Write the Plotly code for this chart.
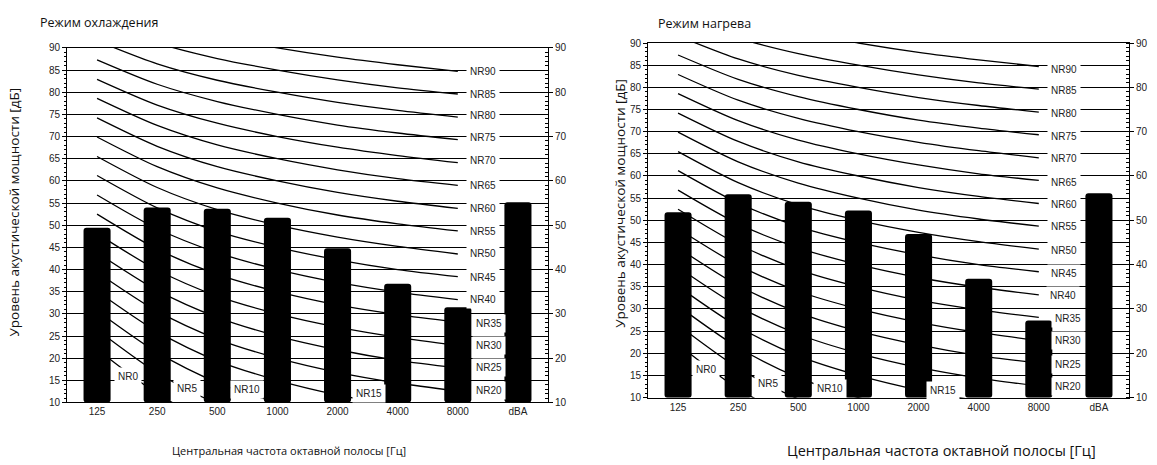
import plotly.graph_objects as go

W, H = 1157, 465

# ---------------- data ----------------
freqs = ["125", "250", "500", "1000", "2000", "4000", "8000", "dBA"]
cooling = [49.4, 54.0, 53.7, 51.7, 44.8, 36.8, 31.5, 55.2]
heating = [51.8, 55.9, 54.2, 52.2, 46.9, 36.8, 27.4, 56.1]

nr_levels = [0, 5, 10, 15, 20, 25, 30, 35, 40, 45, 50, 55, 60, 65, 70, 75, 80, 85, 90]
nr_125 = [22.0, 26.4, 30.7, 35.1, 39.4, 43.8, 48.1, 52.5, 56.8, 61.2, 65.5, 69.9, 74.2, 78.6, 82.9, 87.3, 91.6, 96.0, 100.3]
nr_250 = [12.0, 16.7, 21.3, 26.0, 30.6, 35.3, 39.9, 44.6, 49.2, 53.9, 58.5, 63.2, 67.8, 72.5, 77.1, 81.8, 86.4, 91.1, 95.7]
nr_500 = [4.8, 9.7, 14.5, 19.4, 24.3, 29.2, 34.0, 38.9, 43.8, 48.6, 53.5, 58.4, 63.2, 68.1, 73.0, 77.9, 82.7, 87.6, 92.5]
nr_1000 = [0.0, 5.0, 10.0, 15.0, 20.0, 25.0, 30.0, 35.0, 40.0, 45.0, 50.0, 55.0, 60.0, 65.0, 70.0, 75.0, 80.0, 85.0, 90.0]
nr_2000 = [-3.5, 1.6, 6.7, 11.7, 16.8, 21.9, 27.0, 32.0, 37.1, 42.2, 47.3, 52.3, 57.4, 62.5, 67.6, 72.6, 77.7, 82.8, 87.9]
nr_4000 = [-6.1, -1.0, 4.2, 9.3, 14.4, 19.5, 24.7, 29.8, 34.9, 40.0, 45.2, 50.3, 55.4, 60.5, 65.7, 70.8, 75.9, 81.0, 86.2]
nr_8000 = [-8.0, -2.9, 2.3, 7.5, 12.6, 17.8, 22.9, 28.1, 33.2, 38.4, 43.5, 48.7, 53.8, 59.0, 64.1, 69.3, 74.4, 79.6, 84.7]

titles = ["Режим охлаждения", "Режим нагрева"]
y_title = "Уровень акустической мощности [дБ]"
x_title = "Центральная частота октавной полосы [Гц]"

# ---------------- layout helpers ----------------
def px_x(p):
    return p / W

def px_y(p):
    return 1 - p / H

TICKFONT = dict(family="Liberation Sans, Arial", size=10, color="#222")
TXTFONT = "Open Sans, Noto Sans, sans-serif"

fig = go.Figure()

nr_cols = [nr_125, nr_250, nr_500, nr_1000, nr_2000, nr_4000, nr_8000]
x_idx = list(range(7))

panels = [
    dict(xa="x", ya="y", yb="y3", bars=cooling),
    dict(xa="x2", ya="y2", yb="y4", bars=heating),
]

for pnl in panels:
    for i, n in enumerate(nr_levels):
        fig.add_trace(go.Scatter(
            x=x_idx, y=[col[i] for col in nr_cols],
            mode="lines", line=dict(color="black", width=1.3, shape="spline", smoothing=0.8),
            xaxis=pnl["xa"], yaxis=pnl["ya"], showlegend=False, hoverinfo="skip",
        ))
    fig.add_trace(go.Bar(
        x=list(range(len(freqs))), y=[v - 10 for v in pnl["bars"]], base=10,
        width=0.45, marker=dict(color="black", line=dict(width=0)),
        xaxis=pnl["xa"], yaxis=pnl["yb"], showlegend=False,
    ))

# plot-area pixel boxes
boxes = [
    dict(l=67, r=548, t=43, b=407),
    dict(l=648, r=1129, t=38, b=402),
]

def xaxis_cfg(box, anchor):
    return dict(
        domain=[px_x(box["l"]), px_x(box["r"])], anchor=anchor,
        range=[-0.5, 7.5], tickvals=list(range(8)), ticktext=freqs,
        showgrid=False, zeroline=False, showline=True, linecolor="black", linewidth=1,
        mirror=True, ticks="", tickfont=TICKFONT, fixedrange=True,
    )

def yaxis_cfg(box, anchor):
    return dict(
        domain=[px_y(box["b"]), px_y(box["t"])], anchor=anchor,
        range=[10, 90], tick0=10, dtick=5, tickfont=TICKFONT,
        showgrid=True, gridcolor="black", gridwidth=1, zeroline=False,
        showline=True, linecolor="black", linewidth=1,
        ticks="outside", ticklen=4, tickcolor="black",
        minor=dict(dtick=1, ticks="outside", ticklen=2, tickcolor="black", showgrid=False),
    )

def yaxis_right_cfg(over, anchor):
    return dict(
        overlaying=over, side="right", anchor=anchor,
        range=[10, 90], tick0=10, dtick=10, tickfont=TICKFONT,
        showgrid=False, zeroline=False, showline=True, linecolor="black", linewidth=1,
        ticks="outside", ticklen=4, tickcolor="black",
        minor=dict(dtick=1, ticks="inside", ticklen=3, tickcolor="black", showgrid=False),
    )

fig.update_layout(
    width=W, height=H, margin=dict(l=0, r=0, t=0, b=0),
    paper_bgcolor="white", plot_bgcolor="white",
    barcornerradius=3,
    xaxis=xaxis_cfg(boxes[0], "y"),
    yaxis=yaxis_cfg(boxes[0], "x"),
    yaxis3=yaxis_right_cfg("y", "x"),
    xaxis2=xaxis_cfg(boxes[1], "y2"),
    yaxis2=yaxis_cfg(boxes[1], "x2"),
    yaxis4=yaxis_right_cfg("y2", "x2"),
)

ann = []
# chart titles
ann.append(dict(text=titles[0], x=px_x(38), y=px_y(17), xref="paper", yref="paper",
                xanchor="left", yanchor="middle", showarrow=False,
                font=dict(family=TXTFONT, size=12.5, color="#111")))
ann.append(dict(text=titles[1], x=px_x(656), y=px_y(18), xref="paper", yref="paper",
                xanchor="left", yanchor="middle", showarrow=False,
                font=dict(family=TXTFONT, size=12.5, color="#111")))
# axis titles
ann.append(dict(text=y_title, x=px_x(14), y=px_y(212), xref="paper", yref="paper",
                textangle=-90, xanchor="center", yanchor="middle", showarrow=False,
                font=dict(family=TXTFONT, size=13.5, color="#111")))
ann.append(dict(text=y_title, x=px_x(620), y=px_y(203), xref="paper", yref="paper",
                textangle=-90, xanchor="center", yanchor="middle", showarrow=False,
                font=dict(family=TXTFONT, size=13.5, color="#111")))
ann.append(dict(text=x_title, x=px_x(289), y=px_y(456), xref="paper", yref="paper",
                xanchor="center", yanchor="middle", showarrow=False,
                font=dict(family=TXTFONT, size=11, color="#111")))
ann.append(dict(text=x_title, x=px_x(941), y=px_y(456), xref="paper", yref="paper",
                xanchor="center", yanchor="middle", showarrow=False,
                font=dict(family=TXTFONT, size=14.5, color="#111")))

# NR labels (positions in data coordinates)
label_pos = [
    # left chart
    {0: (0.52, 15.9), 5: (1.50, 13.1), 10: (2.50, 13.0), 15: (4.52, 12.1),
     20: (6.52, 12.6), 25: (6.52, 17.8), 30: (6.52, 22.8), 35: (6.52, 27.8),
     40: (6.42, 33.3), 45: (6.42, 38.2), 50: (6.42, 43.6), 55: (6.42, 48.5),
     60: (6.42, 53.7), 65: (6.42, 59.0), 70: (6.42, 64.6), 75: (6.42, 69.8),
     80: (6.42, 74.8), 85: (6.42, 79.5), 90: (6.42, 84.7)},
    # right chart
    {0: (0.47, 16.4), 5: (1.50, 13.1), 10: (2.53, 12.1), 15: (4.40, 11.7),
     20: (6.48, 12.6), 25: (6.48, 17.5), 30: (6.48, 22.9), 35: (6.48, 27.9),
     40: (6.40, 33.0), 45: (6.42, 38.0), 50: (6.42, 43.3), 55: (6.42, 48.5),
     60: (6.42, 53.6), 65: (6.42, 58.6), 70: (6.42, 63.9), 75: (6.42, 69.0),
     80: (6.42, 74.2), 85: (6.42, 79.3), 90: (6.42, 84.1)},
]
for k, (xr, yr) in enumerate([("x", "y"), ("x2", "y2")]):
    for n in nr_levels:
        lx, ly = label_pos[k][n]
        ann.append(dict(text=f"NR{n}", x=lx, y=ly, xref=xr, yref=yr, showarrow=False,
                        xanchor="center", yanchor="middle", bgcolor="white", borderpad=3,
                        font=dict(family="Liberation Sans, Arial", size=10, color="#222")))

fig.update_layout(annotations=ann)
fig.write_html("out.html")
